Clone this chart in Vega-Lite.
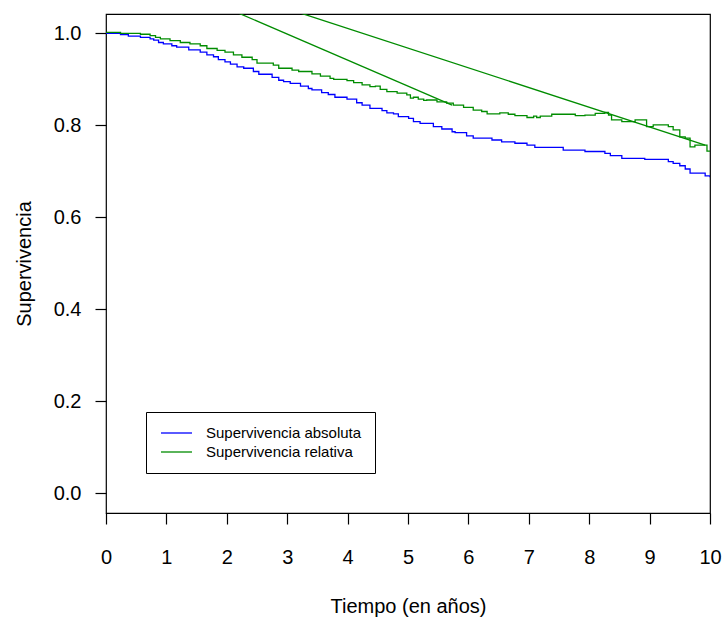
{
  "$schema": "https://vega.github.io/schema/vega-lite/v6.json",
  "width": 604,
  "height": 499,
  "autosize": {"type": "none"},
  "padding": {"left": 106, "top": 14, "right": 13, "bottom": 106},
  "background": "white",
  "config": {
    "font": "Liberation Sans",
    "view": {"stroke": "#000000", "strokeWidth": 1.2},
    "axis": {"labelFont": "Liberation Sans", "titleFont": "Liberation Sans", "labelColor": "#000", "titleColor": "#000", "titleFontWeight": "normal", "tickColor": "#000", "tickWidth": 1.2, "grid": false, "domain": false}
  },
  "datasets": {
    "curvas": [
      {"t": 0, "s": 1.0, "serie": "Supervivencia absoluta"},
      {"t": 0.24, "s": 0.997, "serie": "Supervivencia absoluta"},
      {"t": 0.37, "s": 0.994, "serie": "Supervivencia absoluta"},
      {"t": 0.57, "s": 0.991, "serie": "Supervivencia absoluta"},
      {"t": 0.73, "s": 0.988, "serie": "Supervivencia absoluta"},
      {"t": 0.79, "s": 0.985, "serie": "Supervivencia absoluta"},
      {"t": 0.87, "s": 0.980, "serie": "Supervivencia absoluta"},
      {"t": 0.95, "s": 0.977, "serie": "Supervivencia absoluta"},
      {"t": 1.09, "s": 0.973, "serie": "Supervivencia absoluta"},
      {"t": 1.17, "s": 0.970, "serie": "Supervivencia absoluta"},
      {"t": 1.37, "s": 0.964, "serie": "Supervivencia absoluta"},
      {"t": 1.56, "s": 0.959, "serie": "Supervivencia absoluta"},
      {"t": 1.67, "s": 0.953, "serie": "Supervivencia absoluta"},
      {"t": 1.78, "s": 0.949, "serie": "Supervivencia absoluta"},
      {"t": 1.86, "s": 0.943, "serie": "Supervivencia absoluta"},
      {"t": 1.97, "s": 0.938, "serie": "Supervivencia absoluta"},
      {"t": 2.06, "s": 0.933, "serie": "Supervivencia absoluta"},
      {"t": 2.17, "s": 0.927, "serie": "Supervivencia absoluta"},
      {"t": 2.28, "s": 0.924, "serie": "Supervivencia absoluta"},
      {"t": 2.44, "s": 0.917, "serie": "Supervivencia absoluta"},
      {"t": 2.53, "s": 0.911, "serie": "Supervivencia absoluta"},
      {"t": 2.75, "s": 0.904, "serie": "Supervivencia absoluta"},
      {"t": 2.86, "s": 0.898, "serie": "Supervivencia absoluta"},
      {"t": 2.94, "s": 0.895, "serie": "Supervivencia absoluta"},
      {"t": 3.05, "s": 0.891, "serie": "Supervivencia absoluta"},
      {"t": 3.22, "s": 0.885, "serie": "Supervivencia absoluta"},
      {"t": 3.35, "s": 0.880, "serie": "Supervivencia absoluta"},
      {"t": 3.41, "s": 0.877, "serie": "Supervivencia absoluta"},
      {"t": 3.57, "s": 0.871, "serie": "Supervivencia absoluta"},
      {"t": 3.68, "s": 0.867, "serie": "Supervivencia absoluta"},
      {"t": 3.79, "s": 0.861, "serie": "Supervivencia absoluta"},
      {"t": 3.99, "s": 0.857, "serie": "Supervivencia absoluta"},
      {"t": 4.15, "s": 0.849, "serie": "Supervivencia absoluta"},
      {"t": 4.24, "s": 0.844, "serie": "Supervivencia absoluta"},
      {"t": 4.37, "s": 0.837, "serie": "Supervivencia absoluta"},
      {"t": 4.57, "s": 0.832, "serie": "Supervivencia absoluta"},
      {"t": 4.65, "s": 0.827, "serie": "Supervivencia absoluta"},
      {"t": 4.76, "s": 0.825, "serie": "Supervivencia absoluta"},
      {"t": 4.84, "s": 0.819, "serie": "Supervivencia absoluta"},
      {"t": 5.01, "s": 0.815, "serie": "Supervivencia absoluta"},
      {"t": 5.09, "s": 0.808, "serie": "Supervivencia absoluta"},
      {"t": 5.20, "s": 0.804, "serie": "Supervivencia absoluta"},
      {"t": 5.42, "s": 0.797, "serie": "Supervivencia absoluta"},
      {"t": 5.56, "s": 0.792, "serie": "Supervivencia absoluta"},
      {"t": 5.73, "s": 0.786, "serie": "Supervivencia absoluta"},
      {"t": 5.78, "s": 0.784, "serie": "Supervivencia absoluta"},
      {"t": 5.97, "s": 0.777, "serie": "Supervivencia absoluta"},
      {"t": 6.08, "s": 0.772, "serie": "Supervivencia absoluta"},
      {"t": 6.39, "s": 0.768, "serie": "Supervivencia absoluta"},
      {"t": 6.55, "s": 0.764, "serie": "Supervivencia absoluta"},
      {"t": 6.77, "s": 0.761, "serie": "Supervivencia absoluta"},
      {"t": 6.97, "s": 0.757, "serie": "Supervivencia absoluta"},
      {"t": 7.10, "s": 0.752, "serie": "Supervivencia absoluta"},
      {"t": 7.57, "s": 0.746, "serie": "Supervivencia absoluta"},
      {"t": 7.93, "s": 0.743, "serie": "Supervivencia absoluta"},
      {"t": 8.26, "s": 0.739, "serie": "Supervivencia absoluta"},
      {"t": 8.35, "s": 0.734, "serie": "Supervivencia absoluta"},
      {"t": 8.54, "s": 0.728, "serie": "Supervivencia absoluta"},
      {"t": 8.92, "s": 0.726, "serie": "Supervivencia absoluta"},
      {"t": 9.31, "s": 0.721, "serie": "Supervivencia absoluta"},
      {"t": 9.39, "s": 0.717, "serie": "Supervivencia absoluta"},
      {"t": 9.50, "s": 0.712, "serie": "Supervivencia absoluta"},
      {"t": 9.59, "s": 0.705, "serie": "Supervivencia absoluta"},
      {"t": 9.67, "s": 0.696, "serie": "Supervivencia absoluta"},
      {"t": 9.92, "s": 0.690, "serie": "Supervivencia absoluta"},
      {"t": 10, "s": 0.687, "serie": "Supervivencia absoluta"},
      {"t": 0, "s": 1.002, "serie": "Supervivencia relativa"},
      {"t": 0.24, "s": 1.0, "serie": "Supervivencia relativa"},
      {"t": 0.57, "s": 0.998, "serie": "Supervivencia relativa"},
      {"t": 0.73, "s": 0.995, "serie": "Supervivencia relativa"},
      {"t": 0.82, "s": 0.991, "serie": "Supervivencia relativa"},
      {"t": 0.90, "s": 0.988, "serie": "Supervivencia relativa"},
      {"t": 1.06, "s": 0.984, "serie": "Supervivencia relativa"},
      {"t": 1.23, "s": 0.980, "serie": "Supervivencia relativa"},
      {"t": 1.39, "s": 0.977, "serie": "Supervivencia relativa"},
      {"t": 1.56, "s": 0.973, "serie": "Supervivencia relativa"},
      {"t": 1.67, "s": 0.967, "serie": "Supervivencia relativa"},
      {"t": 1.84, "s": 0.963, "serie": "Supervivencia relativa"},
      {"t": 1.97, "s": 0.959, "serie": "Supervivencia relativa"},
      {"t": 2.11, "s": 0.953, "serie": "Supervivencia relativa"},
      {"t": 2.25, "s": 0.948, "serie": "Supervivencia relativa"},
      {"t": 2.42, "s": 0.943, "serie": "Supervivencia relativa"},
      {"t": 2.50, "s": 0.935, "serie": "Supervivencia relativa"},
      {"t": 2.77, "s": 0.931, "serie": "Supervivencia relativa"},
      {"t": 2.86, "s": 0.924, "serie": "Supervivencia relativa"},
      {"t": 3.08, "s": 0.920, "serie": "Supervivencia relativa"},
      {"t": 3.19, "s": 0.917, "serie": "Supervivencia relativa"},
      {"t": 3.41, "s": 0.912, "serie": "Supervivencia relativa"},
      {"t": 3.55, "s": 0.907, "serie": "Supervivencia relativa"},
      {"t": 3.71, "s": 0.902, "serie": "Supervivencia relativa"},
      {"t": 3.77, "s": 0.900, "serie": "Supervivencia relativa"},
      {"t": 3.99, "s": 0.897, "serie": "Supervivencia relativa"},
      {"t": 4.10, "s": 0.893, "serie": "Supervivencia relativa"},
      {"t": 4.24, "s": 0.888, "serie": "Supervivencia relativa"},
      {"t": 4.37, "s": 0.884, "serie": "Supervivencia relativa"},
      {"t": 4.46, "s": 0.885, "serie": "Supervivencia relativa"},
      {"t": 4.54, "s": 0.878, "serie": "Supervivencia relativa"},
      {"t": 4.65, "s": 0.873, "serie": "Supervivencia relativa"},
      {"t": 4.82, "s": 0.870, "serie": "Supervivencia relativa"},
      {"t": 4.98, "s": 0.866, "serie": "Supervivencia relativa"},
      {"t": 5.04, "s": 0.859, "serie": "Supervivencia relativa"},
      {"t": 5.09, "s": 0.861, "serie": "Supervivencia relativa"},
      {"t": 5.17, "s": 0.857, "serie": "Supervivencia relativa"},
      {"t": 5.26, "s": 0.854, "serie": "Supervivencia relativa"},
      {"t": 5.31, "s": 0.855, "serie": "Supervivencia relativa"},
      {"t": 5.48, "s": 0.851, "serie": "Supervivencia relativa"},
      {"t": 5.64, "s": 0.848, "serie": "Supervivencia relativa"},
      {"t": 5.75, "s": 0.844, "serie": "Supervivencia relativa"},
      {"t": 5.92, "s": 0.839, "serie": "Supervivencia relativa"},
      {"t": 6.08, "s": 0.833, "serie": "Supervivencia relativa"},
      {"t": 6.22, "s": 0.830, "serie": "Supervivencia relativa"},
      {"t": 6.31, "s": 0.825, "serie": "Supervivencia relativa"},
      {"t": 6.52, "s": 0.827, "serie": "Supervivencia relativa"},
      {"t": 6.66, "s": 0.824, "serie": "Supervivencia relativa"},
      {"t": 6.77, "s": 0.821, "serie": "Supervivencia relativa"},
      {"t": 6.97, "s": 0.817, "serie": "Supervivencia relativa"},
      {"t": 7.08, "s": 0.820, "serie": "Supervivencia relativa"},
      {"t": 7.13, "s": 0.817, "serie": "Supervivencia relativa"},
      {"t": 7.19, "s": 0.820, "serie": "Supervivencia relativa"},
      {"t": 7.38, "s": 0.824, "serie": "Supervivencia relativa"},
      {"t": 7.77, "s": 0.821, "serie": "Supervivencia relativa"},
      {"t": 7.93, "s": 0.822, "serie": "Supervivencia relativa"},
      {"t": 8.10, "s": 0.826, "serie": "Supervivencia relativa"},
      {"t": 8.26, "s": 0.828, "serie": "Supervivencia relativa"},
      {"t": 8.32, "s": 0.822, "serie": "Supervivencia relativa"},
      {"t": 8.37, "s": 0.812, "serie": "Supervivencia relativa"},
      {"t": 8.54, "s": 0.808, "serie": "Supervivencia relativa"},
      {"t": 8.76, "s": 0.812, "serie": "Supervivencia relativa"},
      {"t": 8.95, "s": 0.797, "serie": "Supervivencia relativa"},
      {"t": 9.06, "s": 0.801, "serie": "Supervivencia relativa"},
      {"t": 9.31, "s": 0.797, "serie": "Supervivencia relativa"},
      {"t": 9.39, "s": 0.790, "serie": "Supervivencia relativa"},
      {"t": 9.50, "s": 0.775, "serie": "Supervivencia relativa"},
      {"t": 9.59, "s": 0.772, "serie": "Supervivencia relativa"},
      {"t": 9.67, "s": 0.753, "serie": "Supervivencia relativa"},
      {"t": 9.75, "s": 0.757, "serie": "Supervivencia relativa"},
      {"t": 9.95, "s": 0.744, "serie": "Supervivencia relativa"},
      {"t": 10, "s": 0.744, "serie": "Supervivencia relativa"}
    ],
    "rectas": [
      {"t": 0, "s": 1.168, "seg": "A"},
      {"t": 5.73, "s": 0.844, "seg": "A"},
      {"t": 0, "s": 1.182, "seg": "B"},
      {"t": 9.92, "s": 0.757, "seg": "B"}
    ]
  },
  "layer": [
    {
      "data": {"name": "rectas"},
      "mark": {"type": "line", "clip": true, "color": "#008c00", "strokeWidth": 1.3},
      "encoding": {
        "x": {"field": "t", "type": "quantitative"},
        "y": {"field": "s", "type": "quantitative"},
        "detail": {"field": "seg"}
      }
    },
    {
      "data": {"name": "curvas"},
      "mark": {"type": "line", "interpolate": "step-after", "clip": true, "strokeWidth": 1.3},
      "encoding": {
        "x": {
          "field": "t", "type": "quantitative",
          "scale": {"domain": [0, 10], "nice": false, "zero": false},
          "axis": {"values": [0,1,2,3,4,5,6,7,8,9,10], "format": "d", "title": "Tiempo (en años)", "labelFontSize": 20, "titleFontSize": 20, "tickSize": 11, "labelPadding": 23, "titlePadding": 29, "labelFlush": false}
        },
        "y": {
          "field": "s", "type": "quantitative",
          "scale": {"domain": [-0.043, 1.042], "nice": false, "zero": false},
          "axis": {"values": [0, 0.2, 0.4, 0.6, 0.8, 1.0], "format": ".1f", "title": "Supervivencia", "labelFontSize": 20, "titleFontSize": 20, "tickSize": 11, "labelPadding": 14, "titlePadding": 19}
        },
        "color": {
          "field": "serie", "type": "nominal",
          "scale": {"domain": ["Supervivencia absoluta", "Supervivencia relativa"], "range": ["#0000ff", "#008c00"]},
          "legend": {
            "title": null, "orient": "none", "legendX": 40, "legendY": 398,
            "direction": "vertical",
            "strokeColor": "#000", "fillColor": "#fff",
            "padding": 13, "symbolOffset": 1, "symbolType": "stroke", "symbolSize": 961, "symbolStrokeWidth": 1.3,
            "clipHeight": 16,
            "labelFontSize": 15, "labelFont": "Liberation Sans", "labelColor": "#000", "labelOffset": 13, "rowPadding": 3, "labelLimit": 400
          }
        }
      }
    }
  ]
}
